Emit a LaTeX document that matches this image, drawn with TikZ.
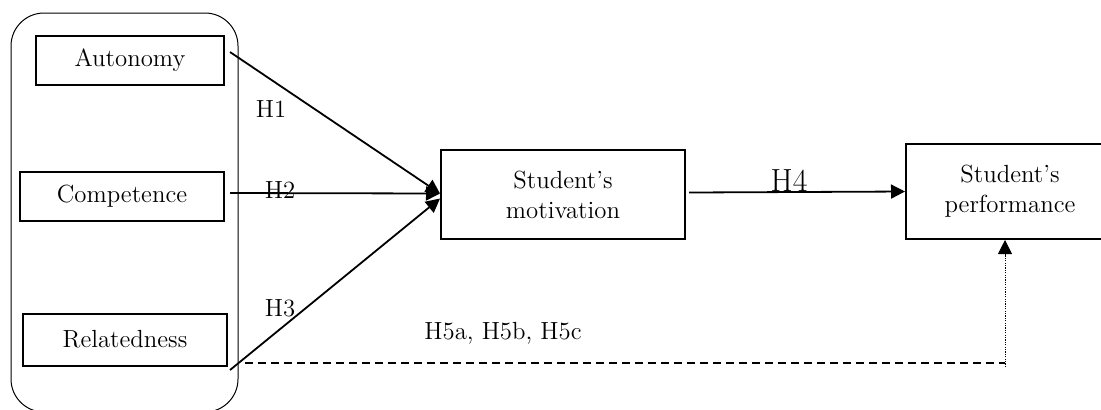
\documentclass[tikz,border=0pt]{standalone}
\usetikzlibrary{arrows.meta}
\begin{document}
\begin{tikzpicture}[x=0.5pt,y=-0.5pt,
  box/.style={draw,line width=1pt,font=\fontsize{12.4}{15}\selectfont,align=center,inner sep=0pt},
  lbl/.style={font=\fontsize{12.4}{15}\selectfont,inner sep=0pt},
  conn/.style={line width=0.9pt,-{Triangle[length=7pt,width=7pt]}}]
\useasboundingbox (0,0) rectangle (1101,409);
\clip (0,0) rectangle (1101,409);
% group frame
\draw[line width=0.5pt,rounded corners=16.5pt] (11,13) rectangle (238,412);
% boxes
\node[box,minimum width=94pt,minimum height=24.5pt] (aut) at (130,60.5) {Autonomy};
\node[box,minimum width=102pt,minimum height=24.5pt] (com) at (122,196.5) {Competence};
\node[box,minimum width=102pt,minimum height=26pt] (rel) at (125,339.5) {Relatedness};
\node[box,minimum width=122pt,minimum height=44.5pt] (mot) at (563,194.5) {Student’s\\motivation};
\node[box,minimum width=104pt,minimum height=47.5pt] (per) at (1010,191.5) {Student’s\\performance};
% connector start points
\coordinate (sa) at (230,52);
\coordinate (sc) at (230,193);
\coordinate (sr) at (230,370);
\coordinate (sd) at (245,363);
\coordinate (dk) at (1005,363);
\coordinate (dk2) at (1005,367);
% arrows
\draw[conn] (sa) -- ([yshift=0.5pt]mot.west);
\draw[conn] (sc) -- ([yshift=0.5pt]mot.west);
\draw[conn] (sr) -- ([yshift=-2pt]mot.west);
\draw[conn] ([xshift=1.5pt,yshift=1pt]mot.east) -- (per.west);
\draw[line width=0.8pt,dash pattern=on 4pt off 2.5pt] (sd) -- (dk);
\draw[line width=0.4pt,dash pattern=on 0.6pt off 0.6pt,-{Triangle[length=7pt,width=7pt]}] (dk2) -- (dk2 |- per.south);
% labels
\node[lbl] (h1) at (271,109) {H1};
\node[lbl] (h2) at (280,190) {H2};
\node[lbl] (h3) at (280,308) {H3};
\node[font=\fontsize{16}{19}\selectfont,inner sep=0pt] (h4) at (789,181) {H4};
\node[lbl] (h5) at (503,333) {H5a, H5b, H5c};
\end{tikzpicture}
\end{document}
